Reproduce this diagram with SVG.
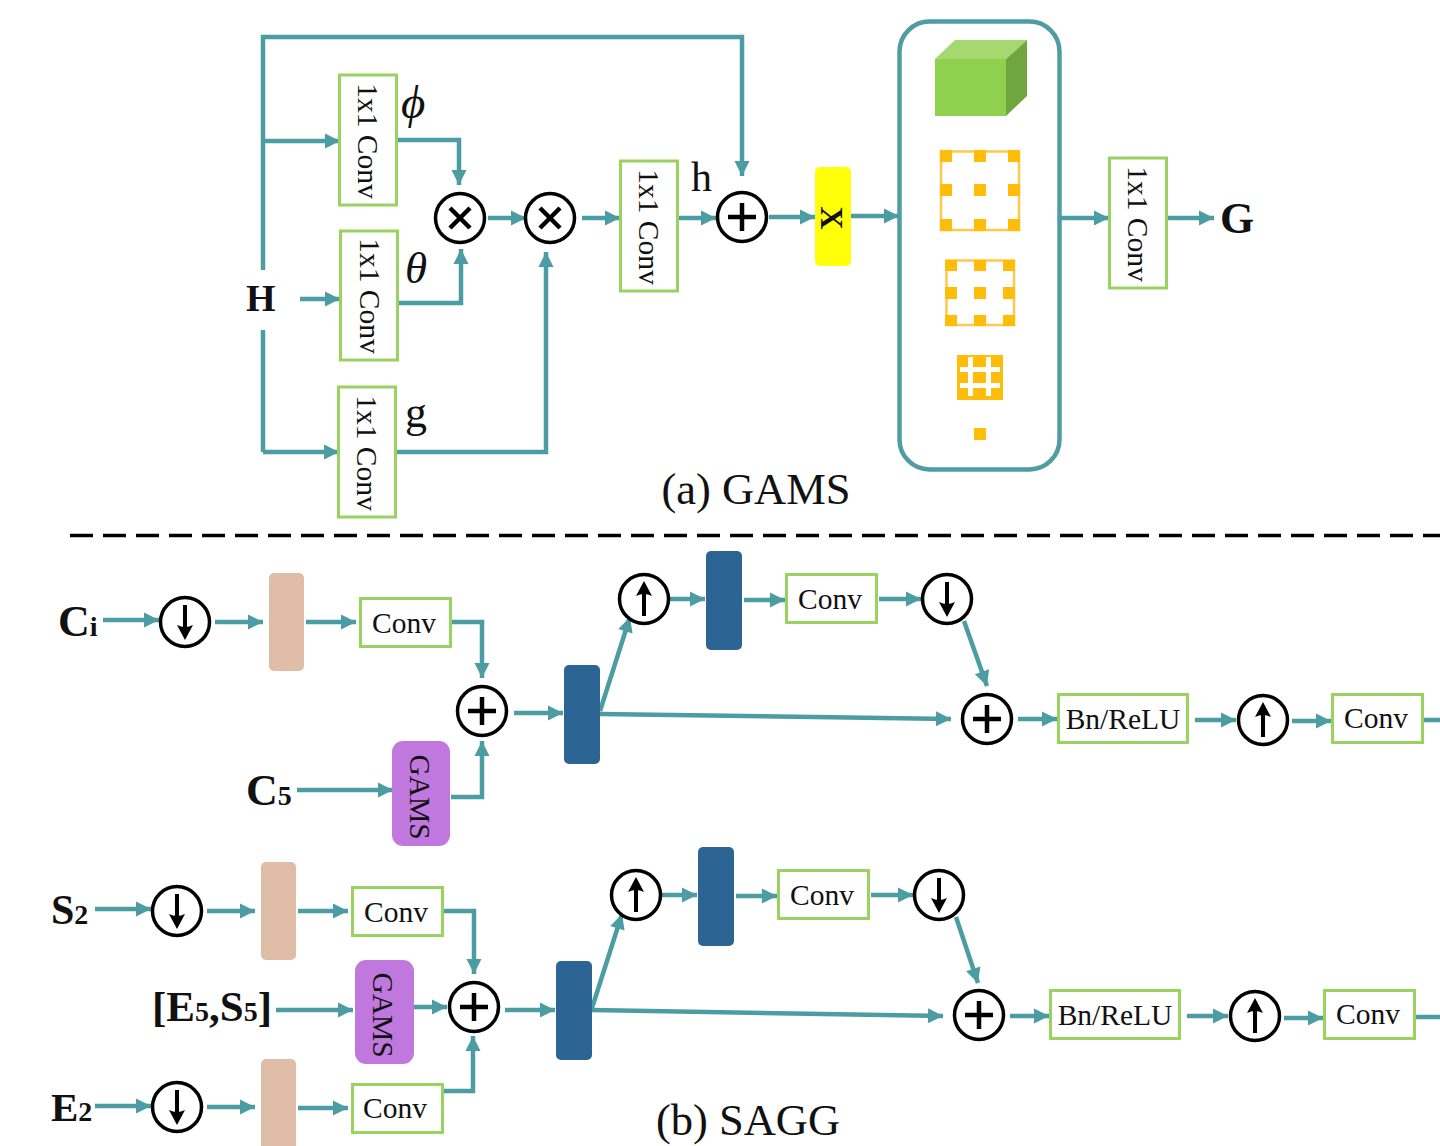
<svg xmlns="http://www.w3.org/2000/svg" xmlns:xlink="http://www.w3.org/1999/xlink" width="1440" height="1146" viewBox="0 0 1440 1146">
<style>
text{font-family:"Liberation Serif","Times New Roman",serif;fill:#111}
.c{fill:none;stroke:#4b9ca3;stroke-width:4.500}
.a{marker-end:url(#ah)}
.g{fill:#fff;stroke:#9ad25f;stroke-width:3}
.t{font-size:29.500px;text-anchor:middle;dominant-baseline:central}
.b{font-weight:bold}
.o{fill:#fff;stroke:#000;stroke-width:3.500}
.s{fill:none;stroke:#000;stroke-width:4.500}
.bl{fill:#2c6594}.ta{fill:#dfbda6}.pu{fill:#c078df}
.y{fill:#ffbd0a}
.cap{font-size:44.500px;text-anchor:middle}
.lab{font-size:44px;font-weight:bold}
.sub{font-size:28px;font-weight:bold}
</style>
<defs>
<marker id="ah" markerUnits="userSpaceOnUse" markerWidth="18" markerHeight="18" refX="16" refY="9" orient="auto"><path d="M1 1.500L16 9L1 16.500Z" fill="#4b9ca3"/></marker>
<g id="plus"><circle r="24.500" class="o"/><path class="s" d="M-14 0H14M0-14V14"/></g>
<g id="times"><circle r="24.500" class="o"/><path class="s" d="M-10-10L10 10M10-10L-10 10"/></g>
<g id="down"><circle r="24.500" class="o"/><path class="s" style="stroke-width:4" d="M0-17V8"/><path d="M-8 3Q0 7 8 3L0 18Z"/></g>
<g id="up"><circle r="24.500" class="o"/><path class="s" style="stroke-width:4" d="M0 17V-8"/><path d="M-8-3Q0-7 8-3L0-18Z"/></g>
</defs>
<g id="connectors">
<path class="c a" d="M263 270V37H742V176"/>
<path class="c a" d="M263 141H340"/>
<path class="c a" d="M300 299H340"/>
<path class="c" d="M263 330V452"/><path class="c a" d="M263 452H339"/>
<path class="c a" d="M397 140H459V185"/>
<path class="c a" d="M399 303H461V249"/>
<path class="c a" d="M396 452H546V252"/>
<path class="c a" d="M488 218H526"/>
<path class="c a" d="M582 218H620"/>
<path class="c a" d="M679 218H716"/>
<path class="c a" d="M769 217H815"/>
<path class="c a" d="M851 216H899"/>
<path class="c a" d="M1061 218H1109"/>
<path class="c a" d="M1167 218H1214"/>
<path class="c a" d="M103 620H159"/>
<path class="c a" d="M215 622H263"/>
<path class="c a" d="M306 622H356"/>
<path class="c a" d="M451 622H482V678"/>
<path class="c a" d="M297 790H393"/>
<path class="c a" d="M451 797H482V741"/>
<path class="c a" d="M514 713H563"/>
<path class="c a" d="M600 711L630 617"/>
<path class="c a" d="M600 714L951 719"/>
<path class="c a" d="M670 599H705"/>
<path class="c a" d="M744 600H785"/>
<path class="c a" d="M879 599H921"/>
<path class="c a" d="M964 621L987 686"/>
<path class="c a" d="M1018 719H1057"/>
<path class="c a" d="M1195 720H1236"/>
<path class="c a" d="M1292 721H1331"/>
<path class="c" d="M1424 720H1440"/>
<path class="c a" d="M95 909H151"/>
<path class="c a" d="M207 911H255"/>
<path class="c a" d="M298 911H348"/>
<path class="c a" d="M443 911H474V974"/>
<path class="c a" d="M276 1010H353"/>
<path class="c a" d="M414 1007H447"/>
<path class="c a" d="M505 1010H555"/>
<path class="c a" d="M592 1008L622 914"/>
<path class="c a" d="M592 1010L943 1016"/>
<path class="c a" d="M662 895H697"/>
<path class="c a" d="M736 896H777"/>
<path class="c a" d="M871 895H913"/>
<path class="c a" d="M956 917L978 983"/>
<path class="c a" d="M1010 1016H1049"/>
<path class="c a" d="M1187 1016H1228"/>
<path class="c a" d="M1284 1018H1323"/>
<path class="c" d="M1416 1017H1440"/>
<path class="c a" d="M95 1106H151"/>
<path class="c a" d="M207 1107H255"/>
<path class="c a" d="M298 1108H348"/>
<path class="c a" d="M443 1091H473V1036"/>
</g>
<g id="H"><text class="lab" style="font-size:38px" x="246" y="311">H</text></g>
<g id="G"><text class="lab" x="1220" y="233">G</text></g>
<g id="conv-phi"><rect class="g" x="339.500" y="75" width="57" height="130"/><text class="t" transform="translate(368 141) rotate(90)">1x1 Conv</text></g>
<g id="conv-theta"><rect class="g" x="340.500" y="231" width="57" height="129"/><text class="t" transform="translate(370 296) rotate(90)">1x1 Conv</text></g>
<g id="conv-g"><rect class="g" x="338.500" y="387" width="57" height="130"/><text class="t" transform="translate(367 453) rotate(90)">1x1 Conv</text></g>
<g id="conv-h"><rect class="g" x="620.500" y="161" width="57" height="130"/><text class="t" transform="translate(649 227) rotate(90)">1x1 Conv</text></g>
<g id="conv-out"><rect class="g" x="1109.500" y="158" width="57" height="130"/><text class="t" transform="translate(1138 224) rotate(90)">1x1 Conv</text></g>
<g id="phi"><text x="401" y="118" font-size="47" font-style="italic">ϕ</text></g>
<g id="theta"><text x="405" y="283" font-size="45" font-style="italic">θ</text></g>
<g id="g-label"><text x="405" y="427" font-size="44">g</text></g>
<g id="h-label"><text x="691" y="191" font-size="42">h</text></g>
<g id="mul1"><use xlink:href="#times" x="460" y="218"/></g>
<g id="mul2"><use xlink:href="#times" x="550" y="218"/></g>
<g id="add-h"><use xlink:href="#plus" x="742" y="217"/></g>
<g id="x-box"><rect x="815" y="167" width="36" height="99" rx="5" fill="#ffff0a"/><text class="t b" style="font-size:32px" transform="translate(832 218) rotate(90)">X</text></g>
<g id="panel">
<rect x="899.500" y="21.500" width="160" height="448" rx="30" fill="#fff" stroke="#4f9da3" stroke-width="4.500"/>
<path d="M935 59H1006V116H935Z" fill="#8fd14f"/>
<path d="M935 59L955 40H1027L1006 59Z" fill="#a5d96f"/>
<path d="M1006 59L1027 40V96L1006 116Z" fill="#6fa63d"/>
<g class="y">
<path fill="none" stroke="#ffc94a" stroke-width="2.500" d="M941 151.500H1019V230H941Z"/>
<path d="M940 150h12v12h-12zM974 150h12v12h-12zM1008 150h12v12h-12zM940 184h12v12h-12zM974 184h12v12h-12zM1008 184h12v12h-12zM940 219h12v12h-12zM974 219h12v12h-12zM1008 219h12v12h-12z"/>
<path fill="none" stroke="#ffc94a" stroke-width="2.500" d="M946.500 260.500H1014V325H946.500Z"/>
<path d="M945 260h12v11h-12zM974 260h12v11h-12zM1003 260h12v11h-12zM945 287h12v12h-12zM974 287h12v12h-12zM1003 287h12v12h-12zM945 315h12v11h-12zM974 315h12v11h-12zM1003 315h12v11h-12z"/>
<path d="M957 355h46v45h-46z"/>
<path fill="#fff" d="M968 357h5v39h-5zM986 357h5v39h-5zM960 367h40v5h-40zM960 383h40v5h-40z"/>
<path d="M974 428h12v12h-12z"/>
</g>
</g>
<g id="cap-a"><text class="cap" x="756" y="504">(a) GAMS</text></g>
<g id="divider"><path d="M70 535.500H1440" stroke="#000" stroke-width="3.500" stroke-dasharray="23 10" fill="none"/></g>
<g id="Ci"><text class="lab" x="58" y="636">C<tspan class="sub">i</tspan></text></g>
<g id="down1"><use xlink:href="#down" x="185" y="622"/></g>
<g id="tan1"><rect class="ta" x="269" y="573" width="35" height="98" rx="5"/></g>
<g id="conv1"><rect class="g" x="360.500" y="598.500" width="90" height="48"/><text class="t" x="404" y="623">Conv</text></g>
<g id="C5"><text class="lab" x="246" y="805">C<tspan class="sub">5</tspan></text></g>
<g id="gams1"><rect class="pu" x="392" y="741" width="58" height="105" rx="11"/><text class="t" transform="translate(420 797) rotate(90)">GAMS</text></g>
<g id="add1"><use xlink:href="#plus" x="482" y="711"/></g>
<g id="blue1"><rect class="bl" x="564" y="665" width="36" height="99" rx="5"/></g>
<g id="up1"><use xlink:href="#up" x="644" y="599"/></g>
<g id="blue2"><rect class="bl" x="706" y="551" width="36" height="99" rx="5"/></g>
<g id="conv2"><rect class="g" x="786.500" y="574.500" width="90" height="48"/><text class="t" x="830" y="599">Conv</text></g>
<g id="down2"><use xlink:href="#down" x="947" y="599"/></g>
<g id="add2"><use xlink:href="#plus" x="987" y="719"/></g>
<g id="bn1"><rect class="g" x="1058.500" y="694.500" width="129" height="48"/><text class="t" x="1123" y="719">Bn/ReLU</text></g>
<g id="up2"><use xlink:href="#up" x="1263" y="720"/></g>
<g id="conv3"><rect class="g" x="1332.500" y="694.500" width="90" height="48"/><text class="t" x="1376" y="718">Conv</text></g>
<g id="S2"><text class="lab" style="font-size:42px" x="51" y="924">S<tspan class="sub">2</tspan></text></g>
<g id="down3"><use xlink:href="#down" x="177" y="911"/></g>
<g id="tan2"><rect class="ta" x="261" y="862" width="35" height="98" rx="5"/></g>
<g id="conv4"><rect class="g" x="352.500" y="887.500" width="90" height="48"/><text class="t" x="396" y="912">Conv</text></g>
<g id="E5S5"><text class="lab" style="font-size:43px" x="152" y="1021">[E<tspan class="sub">5</tspan>,S<tspan class="sub">5</tspan>]</text></g>
<g id="gams2"><rect class="pu" x="355" y="960" width="59" height="104" rx="11"/><text class="t" transform="translate(383 1015) rotate(90)">GAMS</text></g>
<g id="add3"><use xlink:href="#plus" x="474" y="1007"/></g>
<g id="blue3"><rect class="bl" x="556" y="961" width="36" height="99" rx="5"/></g>
<g id="up3"><use xlink:href="#up" x="636" y="895"/></g>
<g id="blue4"><rect class="bl" x="698" y="847" width="36" height="99" rx="5"/></g>
<g id="conv5"><rect class="g" x="778.500" y="870.500" width="90" height="48"/><text class="t" x="822" y="895">Conv</text></g>
<g id="down4"><use xlink:href="#down" x="939" y="895"/></g>
<g id="add4"><use xlink:href="#plus" x="979" y="1015"/></g>
<g id="bn2"><rect class="g" x="1050.500" y="990.500" width="129" height="48"/><text class="t" x="1115" y="1015">Bn/ReLU</text></g>
<g id="up4"><use xlink:href="#up" x="1255" y="1016"/></g>
<g id="conv6"><rect class="g" x="1324.500" y="990.500" width="90" height="48"/><text class="t" x="1368" y="1014">Conv</text></g>
<g id="E2"><text class="lab" style="font-size:41px" x="51" y="1121">E<tspan class="sub">2</tspan></text></g>
<g id="down5"><use xlink:href="#down" x="177" y="1107"/></g>
<g id="tan3"><rect class="ta" x="261" y="1059" width="35" height="98" rx="5"/></g>
<g id="conv7"><rect class="g" x="352.500" y="1084.500" width="90" height="48"/><text class="t" x="395" y="1108">Conv</text></g>
<g id="cap-b"><text class="cap" x="748" y="1135">(b) SAGG</text></g>
</svg>
